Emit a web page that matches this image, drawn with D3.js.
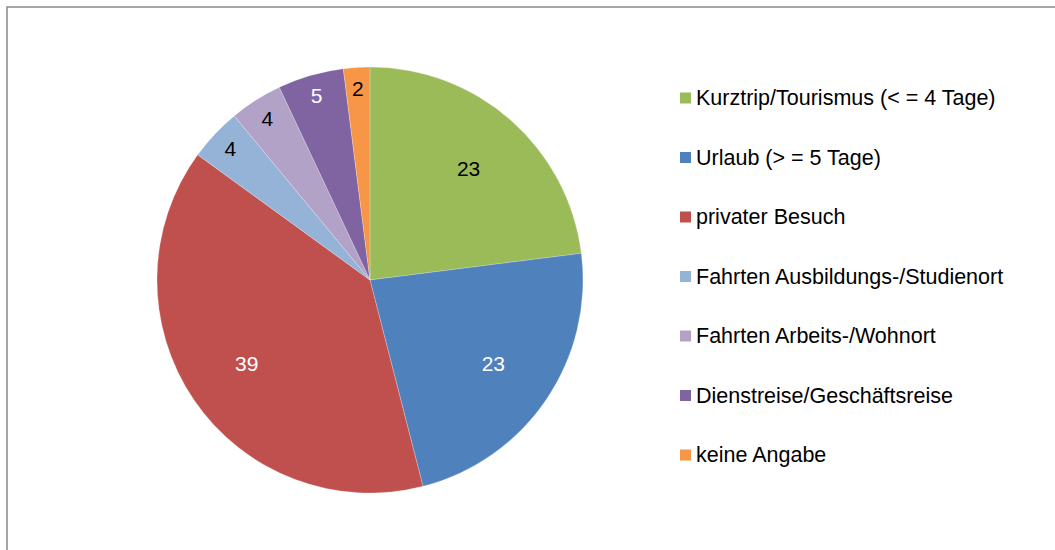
<!DOCTYPE html>
<html><head><meta charset="utf-8">
<script src="https://cdn.jsdelivr.net/npm/d3@7"></script>
<style>html,body{margin:0;padding:0;background:#fff;}svg{display:block;}</style>
</head><body>
<svg id="c" width="1055" height="550"></svg>
<script>
const categories = ["Kurztrip/Tourismus (< = 4 Tage)","Urlaub (> = 5 Tage)","privater Besuch","Fahrten Ausbildungs-/Studienort","Fahrten Arbeits-/Wohnort","Dienstreise/Geschäftsreise","keine Angabe"];
const values = [23, 23, 39, 4, 4, 5, 2];
const colors = ["#9BBB59","#4F81BD","#C0504D","#95B3D7","#B3A2C7","#8064A2","#F79646"];
const labelColors = ["#000","#fff","#fff","#000","#000","#fff","#000"];

const svg = d3.select("#c");
const font = "'Liberation Sans', Arial, sans-serif";

svg.append("rect").attr("x",7).attr("y",7).attr("width",1060).attr("height",560)
  .attr("fill","#fff").attr("stroke","#898989").attr("stroke-width",1.5);

const cx = 370, cy = 280, R = 213;
const data = categories.map((c,i)=>({c, v: values[i], i}));
const pie = d3.pie().value(d=>d.v).sort(null);
const arcs = pie(data);
const arc = d3.arc().innerRadius(0).outerRadius(R);
const g = svg.append("g").attr("transform",`translate(${cx},${cy})`);
g.selectAll("path").data(arcs).join("path")
  .attr("d",arc).attr("fill",d=>colors[d.data.i])
  .attr("stroke","#fff").attr("stroke-width",0.4).attr("stroke-opacity",0.6);

const labelArcBig = d3.arc().innerRadius(R*0.7).outerRadius(R*0.7);
const labelArcSmall = d3.arc().innerRadius(R*0.9).outerRadius(R*0.9);
g.selectAll("text").data(arcs).join("text")
  .attr("transform",d=>{const p=(d.data.v<10?labelArcSmall:labelArcBig).centroid(d);return `translate(${p[0]},${p[1]})`;})
  .attr("text-anchor","middle").attr("dominant-baseline","central")
  .attr("font-family",font).attr("font-size",21)
  .attr("fill",d=>labelColors[d.data.i]).text(d=>d.data.v);

const ly = d3.scalePoint().domain(categories).range([98,455]);
const lg = svg.append("g");
const items = lg.selectAll("g").data(data).join("g")
  .attr("transform",d=>`translate(680,${ly(d.c)})`);
items.append("rect").attr("x",0).attr("y",-5.5).attr("width",11).attr("height",11)
  .attr("fill",d=>colors[d.i]);
items.append("text").attr("x",16).attr("y",0).attr("dominant-baseline","central")
  .attr("font-family",font).attr("font-size",21.5).attr("fill","#000").text(d=>d.c);
</script>
</body></html>
